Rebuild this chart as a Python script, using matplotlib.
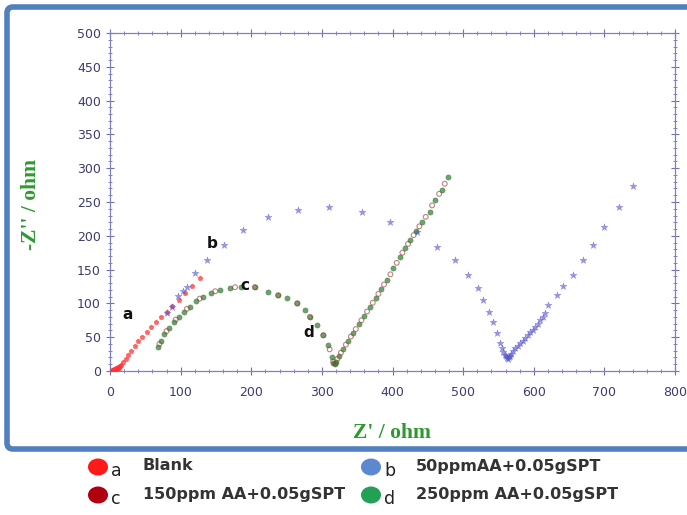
import matplotlib
matplotlib.use("Agg")
import matplotlib.pyplot as plt
from matplotlib.patches import FancyBboxPatch, Ellipse
from matplotlib.ticker import MultipleLocator

# Nyquist data (Z' , -Z'')
a_x = [2, 3, 4, 5, 6, 7, 8, 9, 10, 11, 12, 13, 14, 16, 19, 22, 26, 30, 35, 40, 46, 52, 58, 65, 72, 80, 88, 97, 106, 116, 127]
a_y = [0, 1, 2, 1, 3, 2, 4, 3, 5, 4, 6, 5, 7, 9, 13, 18, 24, 30, 37, 44, 51, 58, 65, 72, 80, 88, 96, 105, 115, 126, 137]

b_x = [81, 88, 96, 103, 109, 120, 137, 161, 189, 224, 266, 310, 357, 397, 435, 463, 489, 507, 521, 528,
       537, 543, 548, 552, 555, 557, 559, 560, 562, 563, 565, 567, 568, 571, 574, 578, 581, 585, 588, 592,
       595, 599, 602, 606, 609, 613, 616, 620, 633, 642, 656, 670, 684, 700, 720, 741]
b_y = [86, 95, 111, 118, 124, 145, 164, 186, 208, 228, 238, 243, 235, 220, 206, 184, 164, 142, 123, 105,
       87, 72, 56, 41, 34, 28, 24, 22, 19, 18, 20, 22, 25, 29, 34, 37, 41, 45, 49, 53,
       57, 61, 65, 70, 75, 80, 86, 98, 112, 126, 142, 164, 186, 213, 243, 274]

c_x = [70, 80, 93, 109, 127, 149, 177, 205, 238, 265, 283, 302, 311, 316, 319, 322, 327, 334, 341, 348,
       356, 364, 372, 380, 388, 397, 406, 414, 422, 430, 438, 447, 456, 466, 474]
c_y = [40, 59, 76, 92, 107, 118, 124, 124, 112, 100, 80, 53, 32, 14, 11, 18, 27, 39, 51, 62,
       75, 88, 101, 114, 128, 143, 160, 175, 188, 201, 214, 228, 245, 262, 277]

d_x = [68, 72, 77, 83, 90, 97, 105, 113, 122, 132, 143, 156, 170, 185, 205, 224, 238, 250, 265, 276,
       283, 293, 302, 309, 314, 316, 318, 320, 324, 330, 337, 344, 352, 360, 368, 376, 384, 392, 401,
       410, 418, 425, 433, 442, 453, 460, 470, 479]
d_y = [36, 45, 54, 63, 72, 80, 88, 95, 103, 110, 115, 120, 123, 125, 124, 117, 112, 108, 100, 90,
       80, 68, 53, 38, 21, 12, 10, 14, 22, 33, 45, 56, 69, 82, 95, 108, 121, 135, 152,
       169, 182, 194, 207, 220, 235, 253, 268, 287]

legend_keys = ["a", "b", "c", "d"]
legend_labels = ["Blank", "50ppmAA+0.05gSPT", "150ppm AA+0.05gSPT", "250ppm AA+0.05gSPT"]

W, H = 687, 515
fig = plt.figure(figsize=(W / 100, H / 100), dpi=100)

# background layer in pixel coords: frame + legend
bg = fig.add_axes([0, 0, 1, 1], zorder=0)
bg.set_xlim(0, W)
bg.set_ylim(H, 0)
bg.axis("off")
bg.add_patch(FancyBboxPatch((7, 7), 730, 442, boxstyle="round,pad=0,rounding_size=6",
                            facecolor="white", edgecolor="#5080c0", linewidth=4))

leg_colors = ["#ff1a1a", "#5b88d0", "#b00010", "#22a055"]
leg_pos = [(98, 467), (371, 467), (98, 495), (371, 495)]
for key, lab, col, (px, py) in zip(legend_keys, legend_labels, leg_colors, leg_pos):
    bg.add_patch(Ellipse((px, py), 20, 17, facecolor=col, edgecolor="none"))
    bg.text(px + 13, py + 4, key, fontsize=12.5, color="#222222",
            ha="left", va="center")
    bg.text(px + 45, py - 1, lab, fontsize=11.5, fontweight="bold",
            color="#333333", ha="left", va="center")

ax = fig.add_axes([110 / W, 1 - 371 / H, 565 / W, 338 / H], zorder=1)
ax.set_facecolor("none")

ax.scatter(d_x, d_y, marker="o", s=14, color="#2f7a2f", alpha=0.7, linewidths=0.4, zorder=3)
ax.scatter(c_x, c_y, marker="o", s=12, facecolor="none", edgecolor="#a04040", alpha=0.65, linewidths=0.8, zorder=3)
ax.scatter(a_x, a_y, marker="p", s=14, color="#ff3333", alpha=0.75, linewidths=0.3, zorder=4)
ax.scatter(b_x, b_y, marker="*", s=28, color="#5252d0", alpha=0.6, linewidths=0.3, zorder=4)

ax.set_xlim(0, 800)
ax.set_ylim(0, 500)
ax.xaxis.set_major_locator(MultipleLocator(100))
ax.xaxis.set_minor_locator(MultipleLocator(20))
ax.yaxis.set_major_locator(MultipleLocator(50))
ax.yaxis.set_minor_locator(MultipleLocator(10))
ax.tick_params(which="both", direction="inout", top=True, right=True, color="#7070b0",
               labelcolor="#3c3c70", labelsize=9)
ax.tick_params(which="major", length=6, width=0.8)
ax.tick_params(which="minor", length=3, width=0.6)
ax.tick_params(axis="x", pad=8)
for lab in ax.get_xticklabels() + ax.get_yticklabels():
    lab.set_family(["Liberation Sans Narrow", "DejaVu Sans"])
for sp in ax.spines.values():
    sp.set_color("#8080c0")
    sp.set_linewidth(0.9)

ax.set_xlabel("Z' / ohm", family="Liberation Serif", fontweight="bold", fontsize=15.5,
              color="#2e9a2e")
ax.set_ylabel("-Z'' / ohm", family="Liberation Serif", fontweight="bold", fontsize=15.5,
              color="#2e9a2e")
ax.xaxis.set_label_coords(282 / 565, -52 / 338)
ax.yaxis.set_label_coords(-69 / 565, 166 / 338)

# curve letters
for t, x, y in [("a", 25, 84), ("b", 144, 188), ("c", 191, 126), ("d", 282, 57)]:
    ax.text(x, y, t, fontsize=11, fontweight="bold", ha="center", va="center",
            color="#111111", zorder=6)

fig.savefig("out.png", dpi=100)
